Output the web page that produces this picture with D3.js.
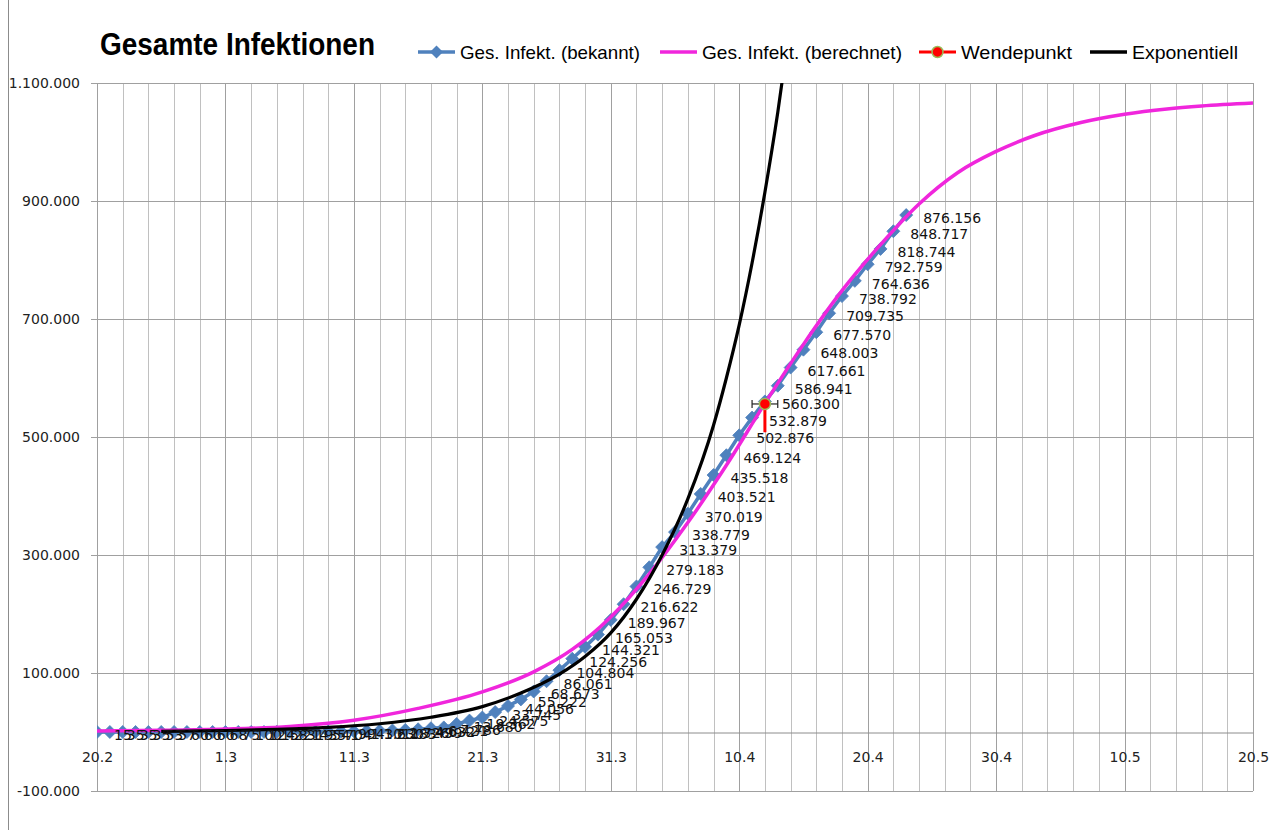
<!DOCTYPE html>
<html>
<head>
<meta charset="utf-8">
<script src="https://cdn.jsdelivr.net/npm/d3@7"></script>
<style>
  body { margin: 0; background: #fff; }
  svg { display: block; }
</style>
</head>
<body>
<svg id="chart" width="1274" height="830"></svg>
<script>
// days counted from 20.2.2020
const xTickDays = [0, 10, 20, 30, 40, 50, 60, 70, 80, 90];
const xTickLabels = ["20.2", "1.3", "11.3", "21.3", "31.3", "10.4", "20.4", "30.4", "10.5", "20.5"];
const yTicks = [-100000, 100000, 300000, 500000, 700000, 900000, 1100000];

// known totals, one per day from 20.2
const knownCases = [
  15, 35, 35, 35, 53, 57, 60, 60, 60, 68,
  75, 100, 124, 158, 221, 319, 435, 541, 704, 994,
  1301, 1630, 2183, 2726, 3499, 4632, 6421, 7786, 13680, 19362,
  24575, 33745, 44056, 55222, 68673, 86061, 104804, 124256, 144321, 165053,
  189967, 216622, 246729, 279183, 313379, 338779, 370019, 403521, 435518, 469124,
  502876, 532879, 560300, 586941, 617661, 648003, 677570, 709735, 738792, 764636,
  792759, 818744, 848717, 876156
];

// calculated curve
const calcDays = [0, 5, 10, 15, 20, 25, 30, 34, 37, 40, 43, 46, 49, 52, 55, 58, 61, 64, 67, 70, 73, 76.6, 80, 83.3, 86, 90];
const calcValues = [1500, 2800, 5000, 9500, 20000, 40000, 68000, 102000, 140000, 195000,
  268000, 355000, 452000, 557000, 657000, 748000, 826000, 895000, 948000, 984000,
  1011000, 1033000, 1047000, 1056000, 1061000, 1066000];

// exponential curve
const expDays = [5, 10, 14, 18, 22, 26, 30, 33, 36, 38, 40, 42, 44, 46, 48, 49, 50, 51, 52, 53, 54];
const expValues = [1200, 2500, 4400, 7800, 14000, 25000, 43000, 66000, 98000, 128000,
  168000, 225000, 300000, 395000, 520000, 600000, 690000, 795000, 915000, 1050000, 1205000];

// inflection point
const turnDay = 52, turnValue = 556000, turnErrX = 1, turnErrYMinus = 48000;

const svg = d3.select("#chart");
const plot = { left: 97, right: 1253, top: 83, bottom: 791 };

const x = d3.scaleLinear().domain([0, 90]).range([plot.left, plot.right]);
const y = d3.scaleLinear().domain([-100000, 1100000]).range([plot.bottom, plot.top]);

const de = d3.formatLocale({ decimal: ",", thousands: ".", grouping: [3], currency: ["", " €"], minus: "-" });
const fmt = de.format(",d");

const numFont = "'DejaVu Sans', Verdana, sans-serif";
const narrowFont = "'Liberation Sans Narrow', 'Arial Narrow', 'Liberation Sans', sans-serif";

svg.append("rect").attr("width", 1274).attr("height", 830).attr("fill", "#fff");

// chart area border (left edge only visible)
svg.append("line")
  .attr("x1", 8.5).attr("x2", 8.5).attr("y1", 0).attr("y2", 830)
  .attr("stroke", "#8c8c8c");

// vertical gridlines every 2 days
const vDays = d3.range(0, 91, 2);
svg.append("g")
  .selectAll("line")
  .data(vDays)
  .join("line")
  .attr("x1", d => Math.round(x(d)) + 0.5)
  .attr("x2", d => Math.round(x(d)) + 0.5)
  .attr("y1", plot.top)
  .attr("y2", plot.bottom)
  .attr("stroke", d => d % 10 === 0 ? "#a0a0a0" : "#c0c0c0");

// y axis ticks and labels
const yAxis = svg.append("g")
  .attr("transform", `translate(${plot.left},0)`)
  .call(d3.axisLeft(y).tickValues(yTicks).tickSize(6).tickPadding(11).tickFormat(fmt));
yAxis.select(".domain").remove();
yAxis.selectAll(".tick line").attr("stroke", "#a0a0a0");
yAxis.selectAll(".tick text")
  .attr("font-family", numFont).attr("font-size", 14).attr("fill", "#222");

// horizontal gridlines
svg.append("g")
  .selectAll("line")
  .data(yTicks)
  .join("line")
  .attr("x1", plot.left).attr("x2", plot.right)
  .attr("y1", d => Math.round(y(d)) + 0.5)
  .attr("y2", d => Math.round(y(d)) + 0.5)
  .attr("stroke", "#a0a0a0");

// x axis at zero
const xAxis = svg.append("g")
  .attr("transform", `translate(0,${Math.round(y(0)) + 0.5})`)
  .call(d3.axisBottom(x).tickValues(xTickDays).tickSize(0).tickPadding(20)
    .tickFormat((d, i) => xTickLabels[i]));
xAxis.select(".domain").attr("stroke", "#8c8c8c");
xAxis.selectAll(".tick text")
  .attr("font-family", numFont).attr("font-size", 14).attr("fill", "#222");

// clip to plot area
svg.append("clipPath").attr("id", "clip")
  .append("rect")
  .attr("x", plot.left).attr("y", plot.top)
  .attr("width", plot.right - plot.left).attr("height", plot.bottom - plot.top);

const series = svg.append("g").attr("clip-path", "url(#clip)");

// known cases
const blue = "#4f81bd";
const knownLine = d3.line()
  .x((d, i) => x(i))
  .y(d => y(d));

series.append("path")
  .datum(knownCases)
  .attr("fill", "none")
  .attr("stroke", blue)
  .attr("stroke-width", 3.5)
  .attr("d", knownLine);

const diamond = "M0,-6.5L6.5,0L0,6.5L-6.5,0Z";
series.append("g")
  .selectAll("path")
  .data(knownCases)
  .join("path")
  .attr("transform", (d, i) => `translate(${x(i)},${y(d)})`)
  .attr("d", diamond)
  .attr("fill", blue)
  .attr("stroke", blue)
  .attr("stroke-width", 0.8);

// calculated
const magenta = "#f026dc";
const calcLine = d3.line()
  .x(d => x(d[0]))
  .y(d => y(d[1]))
  .curve(d3.curveMonotoneX);

series.append("path")
  .datum(calcDays.map((d, i) => [d, calcValues[i]]))
  .attr("fill", "none")
  .attr("stroke", magenta)
  .attr("stroke-width", 3.5)
  .attr("d", calcLine);

// inflection point with error bars
const tx = x(turnDay), ty = y(turnValue);
series.append("line")
  .attr("x1", tx).attr("x2", tx)
  .attr("y1", ty).attr("y2", y(turnValue - turnErrYMinus))
  .attr("stroke", "#ff0000").attr("stroke-width", 3);
const err = series.append("g").attr("stroke", "#222").attr("stroke-width", 1.2);
err.append("line")
  .attr("x1", x(turnDay - turnErrX)).attr("x2", x(turnDay + turnErrX))
  .attr("y1", ty).attr("y2", ty);
[turnDay - turnErrX, turnDay + turnErrX].forEach(d => {
  err.append("line")
    .attr("x1", x(d)).attr("x2", x(d))
    .attr("y1", ty - 4).attr("y2", ty + 4);
});
series.append("circle")
  .attr("cx", tx).attr("cy", ty).attr("r", 5.5)
  .attr("fill", "#ff0000")
  .attr("stroke", "#9bbb59").attr("stroke-width", 1.5);

// exponential
series.append("path")
  .datum(expDays.map((d, i) => [d, expValues[i]]))
  .attr("fill", "none")
  .attr("stroke", "#000")
  .attr("stroke-width", 3.2)
  .attr("d", calcLine);

// data labels
svg.append("g")
  .selectAll("text")
  .data(knownCases)
  .join("text")
  .attr("x", (d, i) => x(i) + 17)
  .attr("y", d => y(d) + 8)
  .attr("font-family", numFont)
  .attr("font-size", 14)
  .attr("fill", "#111")
  .text(d => fmt(d));

// title
svg.append("text")
  .attr("x", 100).attr("y", 55)
  .attr("font-family", narrowFont)
  .attr("font-weight", "bold")
  .attr("font-size", 31)
  .attr("textLength", 275)
  .attr("lengthAdjust", "spacingAndGlyphs")
  .attr("fill", "#000")
  .text("Gesamte Infektionen");

// legend
const legend = [
  { name: "Ges. Infekt. (bekannt)", x: 418, w: 180, color: blue, mark: "diamond" },
  { name: "Ges. Infekt. (berechnet)", x: 660, w: 200, color: magenta, mark: null },
  { name: "Wendepunkt", x: 919, w: 111, color: "#ff0000", mark: "dot" },
  { name: "Exponentiell", x: 1090, w: 106, color: "#000", mark: null }
];
const lg = svg.append("g");
legend.forEach(item => {
  const g = lg.append("g").attr("transform", `translate(${item.x},52)`);
  g.append("line")
    .attr("x1", 0).attr("x2", 37).attr("y1", 0).attr("y2", 0)
    .attr("stroke", item.color).attr("stroke-width", item.mark === "dot" ? 3 : 3.5);
  if (item.mark === "diamond") {
    g.append("path").attr("d", diamond).attr("transform", "translate(18.5,0)")
      .attr("fill", item.color);
  }
  if (item.mark === "dot") {
    g.append("circle").attr("cx", 18.5).attr("cy", 0).attr("r", 5.5)
      .attr("fill", "#ff0000").attr("stroke", "#9bbb59").attr("stroke-width", 1.5);
  }
  g.append("text")
    .attr("x", 42).attr("y", 6.5)
    .attr("font-family", narrowFont)
    .attr("font-size", 18.5)
    .attr("textLength", item.w)
    .attr("lengthAdjust", "spacingAndGlyphs")
    .attr("fill", "#000")
    .text(item.name);
});
</script>
</body>
</html>
